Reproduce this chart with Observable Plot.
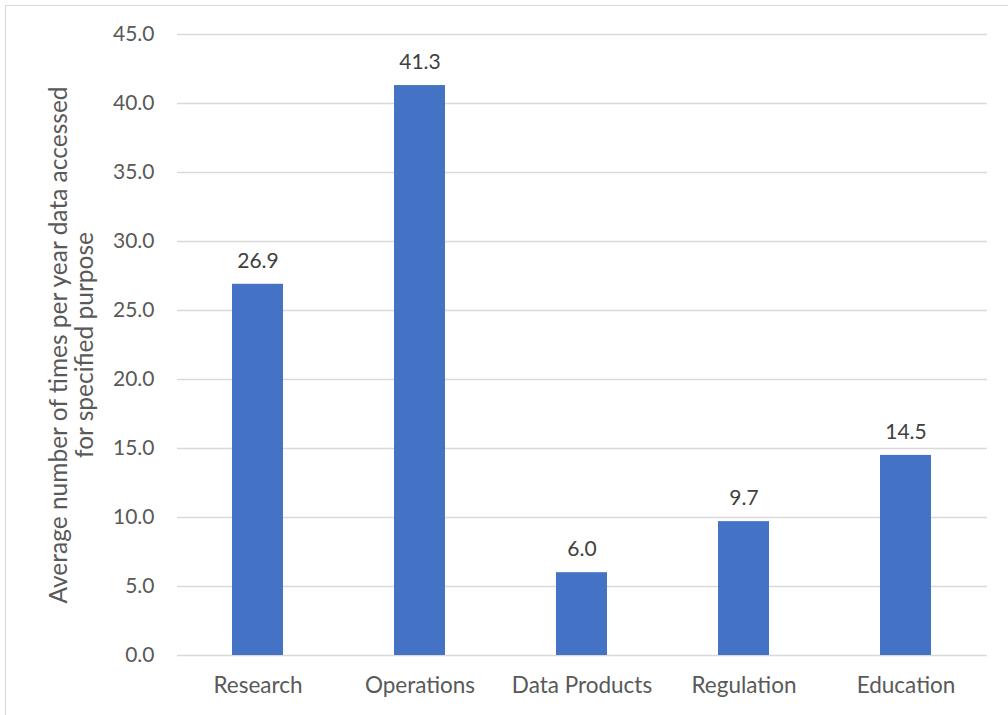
<!DOCTYPE html>
<html>
<head>
<meta charset="utf-8">
<script src="https://cdn.jsdelivr.net/npm/d3@7"></script>
<script src="https://cdn.jsdelivr.net/npm/@observablehq/plot@0.6"></script>
<style>
  body { margin: 0; background: #fff; }
  #wrap { position: relative; width: 1008px; height: 715px; overflow: hidden; }
  #frame { position: absolute; left: 5px; top: 5px; width: 1100px; height: 800px;
           border-left: 1.5px solid #d9d9d9; border-top: 1.5px solid #d9d9d9; }
  #chart { position: absolute; left: 0; top: 0; }
</style>
</head>
<body>
<div id="wrap"><div id="frame"></div><div id="chart"></div></div>
<script>
// Access purposes and average yearly access counts
const purposes = ["Research", "Operations", "Data Products", "Regulation", "Education"];
const averages = [26.9, 41.3, 6.0, 9.7, 14.5];
const yTicks = [0, 5, 10, 15, 20, 25, 30, 35, 40, 45];
const yTitle = "Average number of times per year data accessed\nfor specified purpose";

const rows = purposes.map((p, i) => ({purpose: p, value: averages[i]}));
const font = "Lato, 'Open Sans', sans-serif";

const chart = Plot.plot({
  width: 1008,
  height: 715,
  marginLeft: 177,
  marginRight: 21,
  marginTop: 34,
  marginBottom: 60,
  style: {fontFamily: font, fontSize: "21px", background: "transparent"},
  x: {domain: purposes, paddingInner: 0.685, paddingOuter: 0.3425, label: null},
  y: {domain: [0, 45], label: null},
  marks: [
    Plot.gridY(yTicks, {stroke: "#d9d9d9", strokeOpacity: 1, strokeWidth: 1.5}),
    Plot.axisY(yTicks, {tickSize: 0, tickPadding: 23, tickFormat: d => d.toFixed(1),
      fontSize: 21, fill: "#595959", label: null}),
    Plot.axisX({tickSize: 0, tickPadding: 22, fontSize: 22.5, fill: "#595959", label: null}),
    Plot.barY(rows, {x: "purpose", y: "value", fill: "#4472c4"}),
    Plot.text(rows, {x: "purpose", y: "value", text: d => d.value.toFixed(1), dy: -23,
      fontSize: 21, fill: "#404040"}),
    Plot.text([yTitle], {frameAnchor: "left", rotate: -90, dx: -106, text: d => d,
      fontSize: 24.5, fill: "#595959", lineHeight: 1.06, textAnchor: "middle"})
  ]
});
document.getElementById("chart").append(chart);
</script>
</body>
</html>
